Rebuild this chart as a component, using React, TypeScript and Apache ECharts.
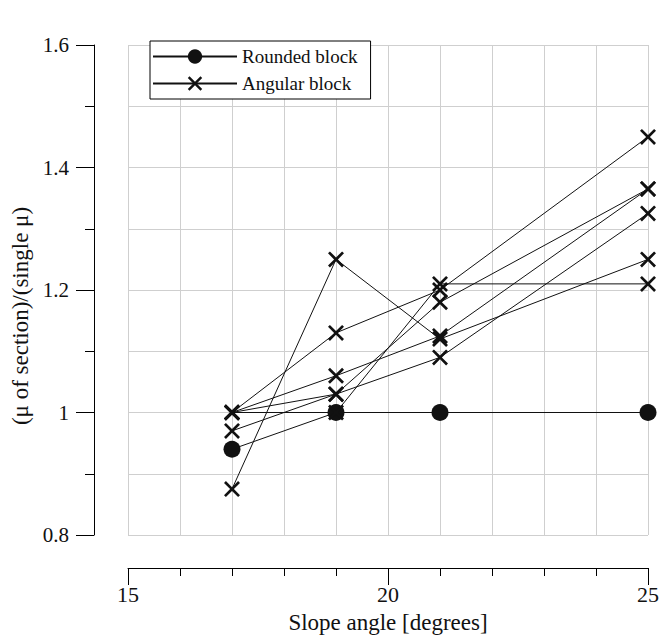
import React, { useEffect, useRef } from "react";
import * as echarts from "echarts";

const angles = [17, 19, 21, 25];
const roundedBlock = [0.94, 1.0, 1.0, 1.0];
const angularA = [1.0, 1.13, 1.2, 1.45];
const angularB = [1.0, 1.06, 1.125, 1.365];
const angularC = [1.0, 1.03, 1.09, 1.325];
const angularD = [1.0, 1.0, 1.21, 1.21];
const angularE = [0.97, 1.03, 1.18, 1.365];
const angularF = [0.875, 1.25, 1.12, 1.25];
const angularSets = [angularA, angularB, angularC, angularD, angularE, angularF];

const FONT = "'Liberation Serif', 'Times New Roman', serif";
const X_PATH =
  "path://M0,12L12,0L50,38L88,0L100,12L62,50L100,88L88,100L50,62L12,100L0,88L38,50Z";

export default function App() {
  const ref = useRef<HTMLDivElement>(null);
  useEffect(() => {
    if (!ref.current) return;
    const chart = echarts.init(ref.current, null, { renderer: "svg" });
    const toPairs = (vals: number[]) => angles.map((a, i) => [a, vals[i]]);
    const lineStyle = { color: "#111", width: 1 };
    const series: any[] = [
      {
        name: "Rounded block",
        type: "line",
        data: toPairs(roundedBlock),
        symbol: "circle",
        symbolSize: 17,
        itemStyle: { color: "#111" },
        lineStyle,
        z: 3,
      },
      ...angularSets.map((vals) => ({
        name: "Angular block",
        type: "line",
        data: toPairs(vals),
        symbol: X_PATH,
        symbolSize: 16,
        itemStyle: { color: "#111" },
        lineStyle,
        z: 4,
      })),
    ];
    chart.setOption({
      animation: false,
      backgroundColor: "#fff",
      textStyle: { fontFamily: FONT },
      grid: { left: 128, right: 10, top: 45, bottom: 94 },
      legend: {
        left: 150,
        top: 41,
        orient: "vertical",
        data: ["Rounded block", "Angular block"],
        itemWidth: 84,
        itemHeight: 18,
        itemGap: 8,
        padding: [6, 13, 6, 2],
        backgroundColor: "#fff",
        borderColor: "#000",
        borderWidth: 1,
        textStyle: { fontFamily: FONT, fontSize: 19, color: "#111" },
      },
      graphic: [
        {
          type: "text",
          x: 20,
          y: 316,
          rotation: Math.PI / 2,
          style: {
            text: "(μ of section)/(single μ)",
            font: "23px 'Liberation Serif', 'Times New Roman', serif",
            fill: "#111",
            textAlign: "center",
            textVerticalAlign: "middle",
          },
        },
      ],
      xAxis: {
        type: "value",
        min: 15,
        max: 25,
        interval: 5,
        offset: 33,
        name: "Slope angle [degrees]",
        nameLocation: "middle",
        nameGap: 43,
        nameTextStyle: { fontFamily: FONT, fontSize: 23, color: "#111" },
        axisLine: { show: true, lineStyle: { color: "#000", width: 1 } },
        axisTick: { show: true, length: 17, lineStyle: { color: "#000" } },
        minorTick: { show: true, splitNumber: 5, length: 8, lineStyle: { color: "#000" } },
        axisLabel: { fontFamily: FONT, fontSize: 22, color: "#111", margin: 15 },
        splitLine: { show: true, lineStyle: { color: "#cfcfcf", width: 1 } },
        minorSplitLine: { show: true, lineStyle: { color: "#cfcfcf", width: 1 } },
      },
      yAxis: {
        type: "value",
        min: 0.8,
        max: 1.6,
        interval: 0.2,
        offset: 34,
        axisLine: { show: true, lineStyle: { color: "#000", width: 1 } },
        axisTick: { show: true, length: 18, lineStyle: { color: "#000" } },
        minorTick: { show: true, splitNumber: 2, length: 9, lineStyle: { color: "#000" } },
        axisLabel: { fontFamily: FONT, fontSize: 21, color: "#111", margin: 25 },
        splitLine: { show: true, lineStyle: { color: "#cfcfcf", width: 1 } },
        minorSplitLine: { show: true, lineStyle: { color: "#cfcfcf", width: 1 } },
      },
      series,
    });
    return () => chart.dispose();
  }, []);
  return (
    <div
      ref={ref}
      style={{ position: "fixed", left: 0, top: 0, width: 662, height: 639 }}
    />
  );
}
